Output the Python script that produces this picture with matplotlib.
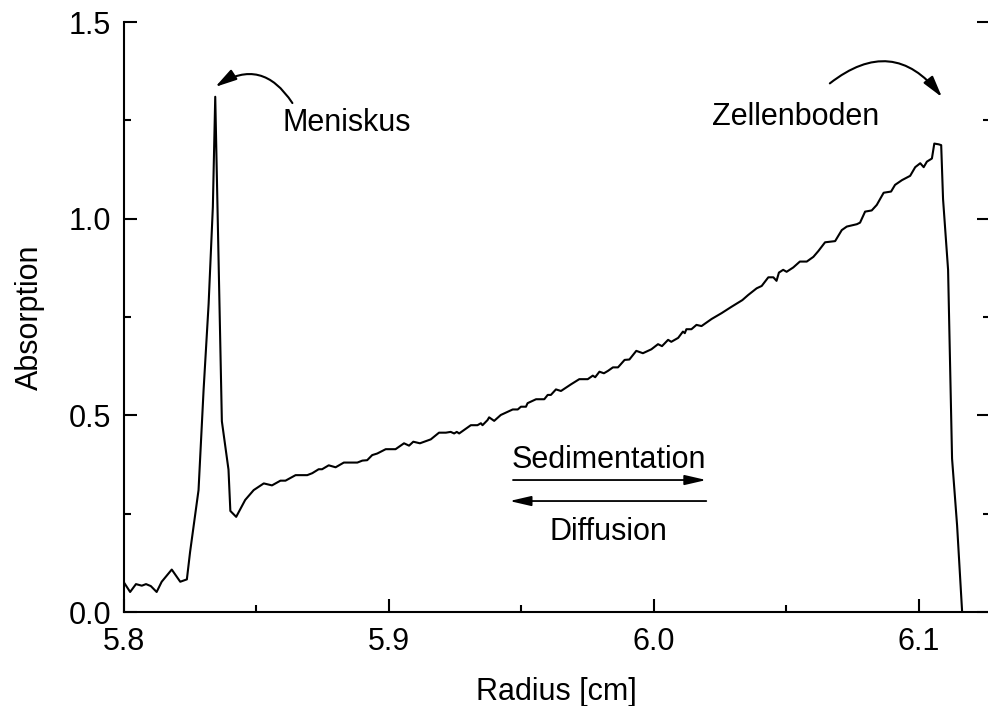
import matplotlib
matplotlib.use("Agg")
import matplotlib.pyplot as plt
from matplotlib.ticker import MultipleLocator, FormatStrFormatter

# values
radius = [5.8000, 5.8025, 5.8047, 5.8069, 5.8085, 5.8103, 5.8125, 5.8144, 5.8182, 5.8214,
          5.8239, 5.8251, 5.8283, 5.8302, 5.8321, 5.8337, 5.8346, 5.8371, 5.8396, 5.8403,
          5.8425, 5.8459, 5.8491, 5.8529, 5.8560, 5.8592, 5.8611, 5.8649, 5.8693, 5.8712,
          5.8736, 5.8749, 5.8774, 5.8800, 5.8831, 5.8882, 5.8901, 5.8919, 5.8938, 5.8957,
          5.8989, 5.9026, 5.9058, 5.9077, 5.9093, 5.9118, 5.9159, 5.9190, 5.9216, 5.9234,
          5.9247, 5.9257, 5.9266, 5.9285, 5.9310, 5.9335, 5.9348, 5.9354, 5.9373, 5.9379,
          5.9398, 5.9423, 5.9468, 5.9487, 5.9499, 5.9518, 5.9524, 5.9556, 5.9587, 5.9600,
          5.9612, 5.9631, 5.9650, 5.9688, 5.9719, 5.9751, 5.9770, 5.9779, 5.9795, 5.9812,
          5.9827, 5.9846, 5.9865, 5.9890, 5.9908, 5.9927, 5.9934, 5.9959, 5.9991, 6.0016,
          6.0031, 6.0054, 6.0066, 6.0092, 6.0110, 6.0117, 6.0123, 6.0142, 6.0161, 6.0180,
          6.0218, 6.0256, 6.0293, 6.0334, 6.0356, 6.0388, 6.0407, 6.0432, 6.0451, 6.0463,
          6.0472, 6.0488, 6.0501, 6.0526, 6.0551, 6.0577, 6.0602, 6.0621, 6.0646, 6.0684,
          6.0709, 6.0728, 6.0766, 6.0778, 6.0797, 6.0822, 6.0841, 6.0867, 6.0895, 6.0910,
          6.0936, 6.0967, 6.0986, 6.1005, 6.1018, 6.1030, 6.1049, 6.1058, 6.1075, 6.1084,
          6.1091, 6.1110, 6.1125, 6.1144, 6.1163]
absorption = [0.077, 0.051, 0.071, 0.067, 0.071, 0.066, 0.051, 0.077, 0.108, 0.077,
              0.083, 0.152, 0.310, 0.564, 0.783, 1.030, 1.310, 0.485, 0.362, 0.257,
              0.242, 0.285, 0.310, 0.327, 0.322, 0.334, 0.334, 0.348, 0.348, 0.353,
              0.363, 0.363, 0.373, 0.368, 0.380, 0.380, 0.385, 0.386, 0.399, 0.403,
              0.414, 0.414, 0.429, 0.423, 0.433, 0.429, 0.439, 0.456, 0.456, 0.458,
              0.454, 0.458, 0.454, 0.463, 0.475, 0.475, 0.480, 0.475, 0.488, 0.495,
              0.486, 0.501, 0.515, 0.515, 0.522, 0.522, 0.531, 0.541, 0.541, 0.552,
              0.552, 0.566, 0.562, 0.579, 0.592, 0.592, 0.601, 0.597, 0.611, 0.607,
              0.613, 0.622, 0.622, 0.641, 0.642, 0.658, 0.664, 0.658, 0.668, 0.681,
              0.676, 0.692, 0.687, 0.697, 0.713, 0.709, 0.719, 0.719, 0.730, 0.727,
              0.745, 0.760, 0.776, 0.793, 0.806, 0.823, 0.829, 0.851, 0.851, 0.842,
              0.863, 0.870, 0.865, 0.876, 0.891, 0.891, 0.903, 0.918, 0.940, 0.943,
              0.971, 0.980, 0.986, 0.990, 1.018, 1.021, 1.035, 1.066, 1.069, 1.086,
              1.098, 1.109, 1.131, 1.141, 1.131, 1.145, 1.153, 1.191, 1.189, 1.187,
              1.050, 0.870, 0.390, 0.220, 0.000]

plt.rcParams["font.family"] = ["Liberation Sans", "DejaVu Sans"]
plt.rcParams["font.size"] = 22

fig = plt.figure(figsize=(9.88, 7.06), dpi=100)
ax = fig.add_axes([0.125, 0.1331, 0.877, 0.8357])

ax.plot(radius, absorption, color="black", lw=1.5)

ax.set_xlim(5.8, 6.1268)
ax.set_ylim(0.0, 1.5)
ax.xaxis.set_major_locator(MultipleLocator(0.1))
ax.xaxis.set_minor_locator(MultipleLocator(0.05))
ax.yaxis.set_major_locator(MultipleLocator(0.5))
ax.yaxis.set_minor_locator(MultipleLocator(0.25))
ax.xaxis.set_major_formatter(FormatStrFormatter("%.1f"))
ax.yaxis.set_major_formatter(FormatStrFormatter("%.1f"))

ax.tick_params(which="both", direction="in", width=1.5, right=True, top=False)
ax.tick_params(which="major", length=9.5)
ax.tick_params(which="minor", length=5)
ax.tick_params(axis="x", which="major", pad=11)
ax.tick_params(axis="y", which="major", pad=9)
for s in ["left", "bottom", "right"]:
    ax.spines[s].set_linewidth(1.5)
ax.spines["top"].set_visible(False)

ax.set_xlabel("Radius [cm]", labelpad=14)
ax.set_ylabel("Absorption", labelpad=17)

# labels and arrows
ax.text(5.8599, 1.223, "Meniskus", ha="left", va="baseline")
ax.text(6.0221, 1.238, "Zellenboden", ha="left", va="baseline")
ax.text(5.983, 0.366, "Sedimentation", ha="center", va="baseline")
ax.text(5.983, 0.183, "Diffusion", ha="center", va="baseline")

arrow = dict(arrowstyle="-|>,head_length=1.3,head_width=0.3", color="black",
             lw=1.3, shrinkA=0, shrinkB=0, mutation_scale=10)
ax.annotate("", xy=(6.0198, 0.3356), xytext=(5.9469, 0.3356), arrowprops=arrow)
ax.annotate("", xy=(5.9456, 0.2822), xytext=(6.0198, 0.2822), arrowprops=arrow)

curve = dict(arrowstyle="-|>,head_length=1.3,head_width=0.35", color="black",
             lw=1.5, shrinkA=0, shrinkB=0, mutation_scale=10)
ax.annotate("", xy=(5.8346, 1.335), xytext=(5.8637, 1.294),
            arrowprops=dict(curve, connectionstyle="arc3,rad=0.5"))
ax.annotate("", xy=(6.1087, 1.309), xytext=(6.0664, 1.344),
            arrowprops=dict(curve, connectionstyle="arc3,rad=-0.5"))

fig.savefig("out.png", dpi=100)
